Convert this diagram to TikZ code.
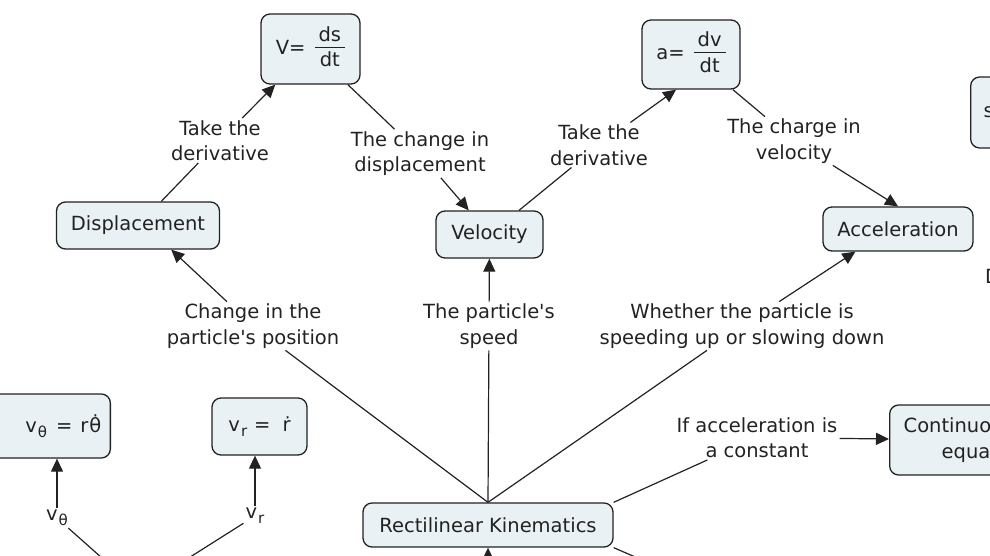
\documentclass[tikz,border=0pt]{standalone}
\usepackage{fontspec}
\setmainfont{DejaVu Sans}
\usetikzlibrary{arrows.meta}
\definecolor{boxfill}{RGB}{233,241,244}
\definecolor{ink}{RGB}{34,34,34}
\setlength\arrayrulewidth{1.1pt}
\newcommand\subtx[1]{\raisebox{-5pt}{\fontsize{15}{15}\selectfont #1}}
\newcommand\fracbox[2]{\begin{tabular}{@{\hspace{4pt}}c@{\hspace{4pt}}}#1\\[-2pt]\hline\rule{0pt}{19pt}#2\end{tabular}}
\tikzset{
  concept/.style={draw=ink, line width=1.3pt, fill=boxfill, rounded corners=9pt,
    inner sep=0pt, align=center, text=ink, font=\fontsize{19.5}{25.5}\selectfont},
  linkword/.style={align=center, inner sep=2pt, text=ink, font=\fontsize{19.5}{25.5}\selectfont},
  conn/.style={draw=ink, line width=1.2pt},
  tip/.style={-{Triangle[length=13pt,width=12pt]}}
}
\begin{document}
\begin{tikzpicture}[x=1pt,y=-1pt]
\useasboundingbox (0,0) rectangle (990,556);
\clip (0,0) rectangle (990,556);

% concept boxes
\node[concept, minimum width=99pt, minimum height=70pt] (vdef) at (310.5,49) {V=\hspace{9pt}\fracbox{ds}{dt}};
\node[concept, minimum width=98pt, minimum height=69pt] (adef) at (691,54.5) {a=\hspace{9pt}\fracbox{dv}{dt}};
\node[concept, minimum width=163pt, minimum height=47pt] (disp) at (138,225.5) {Displacement};
\node[concept, minimum width=107pt, minimum height=47pt] (vel) at (489.5,234.5) {Velocity};
\node[concept, minimum width=150pt, minimum height=44pt] (acc) at (898,229) {Acceleration};
\node[concept, minimum width=250pt, minimum height=44pt] (rk) at (488,525) {Rectilinear Kinematics};
\node[concept, anchor=east, minimum height=64pt, text width=112pt, align=right, inner xsep=9pt] (vth) at (111,426) {v\hspace{1pt}\subtx{θ}\hspace{9pt}=\hspace{8pt}r\hspace{1pt}\.{θ}};
\node[concept, minimum width=95pt, minimum height=57pt] (vr) at (259.5,426.5) {v\hspace{1pt}\subtx{r}\hspace{7pt}=\hspace{12pt}\.{r}};
\node[concept, anchor=west, minimum height=70pt, text width=150pt, align=left, inner xsep=14pt] (cont) at (889,440) {Continuous\\\hspace{38pt}equations};
\node[concept, anchor=west, minimum height=71pt, text width=60pt, align=left, inner xsep=13pt] (sbox) at (970,112.5) {s};
\node[linkword, anchor=west, inner sep=0pt] (dtext) at (985,276) {D};

% linking phrases
\node[linkword] (l1) at (220,140.5) {Take the\\derivative};
\node[linkword] (l2) at (420,153.5) {The change in\\displacement};
\node[linkword] (l3) at (599,145) {Take the\\derivative};
\node[linkword] (l4) at (794,141) {The charge in\\velocity};
\node[linkword] (l5) at (253,326) {Change in the\\particle\textquotesingle s position};
\node[linkword] (l6) at (489,326) {The particle\textquotesingle s\\speed};
\node[linkword] (l7) at (742,326) {Whether the particle is\\speeding up or slowing down};
\node[linkword] (l8) at (757,437.5) {If acceleration is\\a constant};
\node[linkword] (lvth) at (57,518) {v\hspace{1pt}\subtx{θ}};
\node[linkword] (lvr) at (255,516) {v\hspace{1pt}\subtx{r}};

% off-picture ends
\coordinate (below1) at (488,600);
\coordinate (below2) at (700,585);
\coordinate (curv) at (138,590);

% connectors
\draw[conn] (disp) -- (l1);
\draw[conn,tip] (l1) -- (vdef);
\draw[conn] (vdef) -- (l2);
\draw[conn,tip] (l2) -- (vel);
\draw[conn] (vel) -- (l3);
\draw[conn,tip] (l3) -- (adef.-113);
\draw[conn] (adef) -- (l4);
\draw[conn,tip] (l4) -- (acc.north);
\draw[conn] (rk.north) -- (l5);
\draw[conn,tip] (l5) -- (disp.-36);
\draw[conn] (rk.north) -- (l6);
\draw[conn,tip] (l6) -- (vel);
\draw[conn] (rk.north) -- (l7);
\draw[conn,tip] (l7) -- (acc.-152);
\draw[conn] (rk.north east) -- (l8);
\draw[conn,tip] (l8) -- (cont);
\draw[conn,tip] (below1) -- (rk.south);
\draw[conn] (rk.south east) -- (below2);
\draw[conn] (curv) -- (lvth);
\draw[conn,tip] (lvth) -- (lvth |- vth.south);
\draw[conn] (curv) -- (lvr);
\draw[conn,tip] (lvr) -- (lvr |- vr.south);
\end{tikzpicture}
\end{document}
